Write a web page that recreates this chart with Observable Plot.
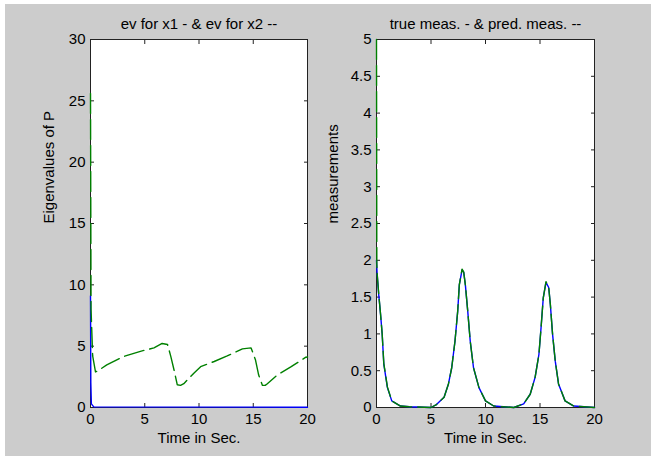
<!DOCTYPE html>
<html><head><meta charset="utf-8">
<script src="https://cdn.jsdelivr.net/npm/d3@7"></script>
<script src="https://cdn.jsdelivr.net/npm/@observablehq/plot@0.6"></script>
<style>
body{margin:0;background:#fff;width:651px;height:456px;overflow:hidden;position:relative;font-family:"Liberation Sans",Arial,sans-serif;}
#bg{position:absolute;left:5px;top:4px;width:646px;height:452px;background:#cccccc;}
.panel{position:absolute;top:0;}
</style></head><body>
<div id="bg"></div>
<div id="left" class="panel" style="left:0px"></div>
<div id="right" class="panel" style="left:330px"></div>
<script>
// ---- Left panel: eigenvalues of P ----
const leftTitle = "ev for x1 - & ev for x2 --";
const leftYLabel = "Eigenvalues of P";
const leftYTicks = [0, 5, 10, 15, 20, 25, 30];
const ev1Time = [0, 0.03, 0.08, 0.3, 20];
const ev1Vals = [9.1, 2.0, 0.3, 0.05, 0.02];
const ev2Time = [0, 0.05, 0.2, 0.46, 0.7, 1.5, 3.1, 4.6, 5.85, 6.6, 7.1, 7.4, 7.7, 8.0, 8.3, 8.6, 9.5, 10.15, 11.4, 12.6, 14.0, 14.8, 15.2, 15.5, 15.85, 16.1, 16.3, 17.2, 18.5, 19.85, 20];
const ev2Vals = [25.6, 8.0, 4.2, 2.9, 3.0, 3.47, 4.17, 4.58, 4.86, 5.22, 5.14, 4.17, 3.06, 1.85, 1.8, 1.94, 2.78, 3.33, 3.75, 4.2, 4.78, 4.86, 3.9, 2.64, 1.8, 1.8, 1.94, 2.64, 3.33, 4.1, 4.12];

// ---- Right panel: measurements ----
const rightTitle = "true meas. - & pred. meas. --";
const rightYLabel = "measurements";
const rightYTicks = [0, 0.5, 1, 1.5, 2, 2.5, 3, 3.5, 4, 4.5, 5];
const trueTime = [0, 0.06, 0.2, 0.37, 0.52, 0.67, 1.0, 1.4, 2.2, 3.0, 5, 5.5, 6.2, 6.6, 6.9, 7.2, 7.45, 7.6, 7.85, 8.0, 8.15, 8.37, 8.6, 8.9, 9.4, 10.0, 10.75, 12.6, 13.5, 14.1, 14.55, 14.9, 15.1, 15.3, 15.55, 15.8, 15.95, 16.15, 16.4, 16.7, 17.3, 18.1, 20];
const trueVals = [2.0, 1.81, 1.54, 1.27, 1.0, 0.59, 0.27, 0.09, 0.02, 0.01, 0, 0.04, 0.14, 0.32, 0.54, 0.9, 1.31, 1.67, 1.87, 1.84, 1.67, 1.31, 0.9, 0.54, 0.27, 0.09, 0.02, 0, 0.05, 0.18, 0.41, 0.72, 1.09, 1.49, 1.70, 1.63, 1.4, 1.0, 0.63, 0.32, 0.09, 0.02, 0];
const predTime = [0, 0.03, 0.06, 0.2, 0.37, 0.52, 0.67, 1.0, 1.4, 2.2, 3.0, 5, 5.5, 6.2, 6.6, 6.9, 7.2, 7.45, 7.6, 7.85, 8.0, 8.15, 8.37, 8.6, 8.9, 9.4, 10.0, 10.75, 12.6, 13.5, 14.1, 14.55, 14.9, 15.1, 15.3, 15.55, 15.8, 15.95, 16.15, 16.4, 16.7, 17.3, 18.1, 20];
const predVals = [5.0, 1.95, 1.82, 1.55, 1.27, 1.0, 0.6, 0.28, 0.09, 0.02, 0.01, 0, 0.04, 0.14, 0.32, 0.54, 0.9, 1.31, 1.67, 1.88, 1.84, 1.67, 1.31, 0.9, 0.54, 0.27, 0.09, 0.02, 0, 0.05, 0.18, 0.41, 0.72, 1.09, 1.49, 1.71, 1.63, 1.4, 1.0, 0.63, 0.32, 0.09, 0.02, 0];

const xTicks = [0, 5, 10, 15, 20];
const xLabel = "Time in Sec.";

const zip = (t, v) => t.map((x, i) => ({t: x, v: v[i]}));

function panel({width, ml, mr, yDomain, yTicks, title, ylabel, ylabelDx, blue, green}) {
  const none = () => "";
  return Plot.plot({
    width, height: 456,
    marginLeft: ml, marginRight: mr, marginTop: 39, marginBottom: 49,
    style: {background: "transparent", fontFamily: "'Liberation Sans', Arial, sans-serif", fontSize: "15px", color: "#000", overflow: "visible"},
    x: {domain: [0, 20]},
    y: {domain: yDomain},
    marks: [
      Plot.frame({fill: "white", stroke: "#222", strokeWidth: 1}),
      Plot.axisX({anchor: "bottom", ticks: xTicks, tickSize: -4, tickPadding: 10, tickFormat: d => String(d), label: null, stroke: "#222", fontSize: 15}),
      Plot.axisX({anchor: "top", ticks: xTicks, tickSize: -4, tickFormat: none, label: null, stroke: "#222"}),
      Plot.axisY({anchor: "left", ticks: yTicks, tickSize: -4, tickPadding: 9, tickFormat: d => String(d), label: null, stroke: "#222", fontSize: 15}),
      Plot.axisY({anchor: "right", ticks: yTicks, tickSize: -4, tickFormat: none, label: null, stroke: "#222"}),
      Plot.line(blue, {x: "t", y: "v", stroke: "#0000ff", strokeWidth: 1.4}),
      Plot.line(green, {x: "t", y: "v", stroke: "#008000", strokeWidth: 1.4, strokeDasharray: "20,6"}),
      Plot.text([title], {text: d => d, frameAnchor: "top", dy: -15.5, lineAnchor: "middle", fontSize: 15}),
      Plot.text([xLabel], {text: d => d, frameAnchor: "bottom", dy: 31, lineAnchor: "middle", fontSize: 15}),
      Plot.text([ylabel], {text: d => d, frameAnchor: "left", dx: ylabelDx, rotate: -90, lineAnchor: "middle", fontSize: 15})
    ]
  });
}

document.getElementById("left").append(panel({
  width: 330, ml: 90, mr: 23, yDomain: [0, 30], yTicks: leftYTicks,
  title: leftTitle, ylabel: leftYLabel, ylabelDx: -41,
  blue: zip(ev1Time, ev1Vals), green: zip(ev2Time, ev2Vals)
}));
document.getElementById("right").append(panel({
  width: 321, ml: 46, mr: 57, yDomain: [0, 5], yTicks: rightYTicks,
  title: rightTitle, ylabel: rightYLabel, ylabelDx: -43,
  blue: zip(trueTime, trueVals), green: zip(predTime, predVals)
}));
</script></body></html>
